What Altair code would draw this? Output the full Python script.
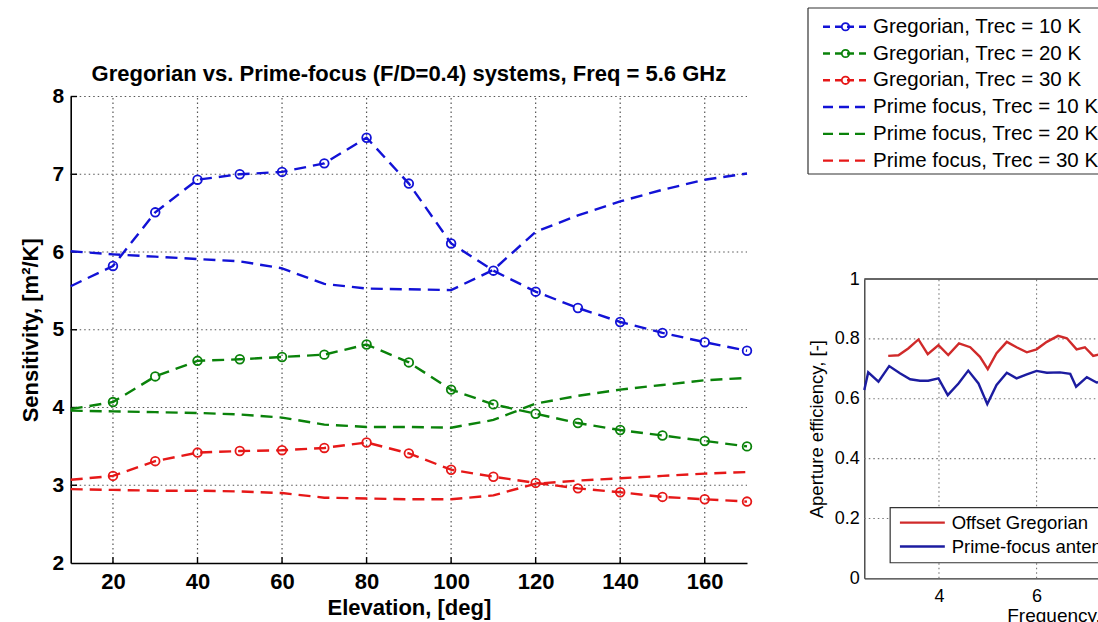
import altair as alt
import pandas as pd

# ---------------- data ----------------
elevation = [10, 20, 30, 40, 50, 60, 70, 80, 90, 100, 110, 120, 130, 140, 150, 160, 170]
greg_10k = [5.56, 5.82, 6.51, 6.93, 7.00, 7.03, 7.14, 7.47, 6.88, 6.11, 5.76, 5.49, 5.28, 5.10, 4.96, 4.84, 4.73]
greg_20k = [3.98, 4.07, 4.40, 4.60, 4.62, 4.65, 4.68, 4.81, 4.58, 4.23, 4.04, 3.92, 3.80, 3.71, 3.64, 3.57, 3.50]
greg_30k = [3.07, 3.12, 3.31, 3.42, 3.44, 3.45, 3.48, 3.55, 3.41, 3.20, 3.11, 3.03, 2.96, 2.91, 2.85, 2.82, 2.79]
prime_10k = [6.01, 5.97, 5.94, 5.91, 5.88, 5.79, 5.59, 5.53, 5.52, 5.51, 5.77, 6.26, 6.47, 6.65, 6.80, 6.93, 7.01]
prime_20k = [3.96, 3.95, 3.94, 3.93, 3.91, 3.87, 3.78, 3.75, 3.75, 3.74, 3.84, 4.05, 4.15, 4.23, 4.29, 4.35, 4.38]
prime_30k = [2.95, 2.94, 2.93, 2.93, 2.92, 2.90, 2.84, 2.83, 2.82, 2.82, 2.87, 3.02, 3.06, 3.09, 3.12, 3.15, 3.17]

temps = ["10 K", "20 K", "30 K"]
legend_labels = [
    "Gregorian, Trec = 10 K", "Gregorian, Trec = 20 K", "Gregorian, Trec = 30 K",
    "Prime focus, Trec = 10 K", "Prime focus, Trec = 20 K", "Prime focus, Trec = 30 K",
]
legend_kinds = ["Gregorian"] * 3 + ["Prime focus"] * 3
legend_temps = temps + temps

main_title = "Gregorian vs. Prime-focus (F/D=0.4) systems, Freq = 5.6 GHz"
x_ticks = [20, 40, 60, 80, 100, 120, 140, 160]
y_ticks = [2, 3, 4, 5, 6, 7, 8]

# inset: aperture efficiency vs frequency
greg_freq = [2.96, 3.17, 3.37, 3.58, 3.77, 3.99, 4.19, 4.41, 4.64, 4.84, 5.00, 5.18, 5.39, 5.59,
             5.80, 6.00, 6.21, 6.44, 6.62, 6.82, 6.99, 7.16, 7.35]
greg_eff = [0.743, 0.745, 0.768, 0.798, 0.749, 0.779, 0.746, 0.785, 0.772, 0.740, 0.699, 0.752, 0.790,
            0.772, 0.755, 0.765, 0.790, 0.810, 0.802, 0.765, 0.772, 0.743, 0.750]
prime_freq = [2.47, 2.55, 2.76, 2.98, 3.20, 3.41, 3.61, 3.78, 3.99, 4.18, 4.40, 4.60, 4.81, 4.99,
              5.18, 5.39, 5.59, 5.80, 6.00, 6.21, 6.48, 6.69, 6.81, 7.03, 7.23, 7.40]
prime_eff = [0.629, 0.688, 0.657, 0.709, 0.685, 0.665, 0.660, 0.660, 0.668, 0.612, 0.651, 0.694, 0.651,
             0.582, 0.646, 0.687, 0.668, 0.681, 0.693, 0.687, 0.688, 0.683, 0.640, 0.672, 0.654, 0.660]
inset_series = ["Offset Gregorian", "Prime-focus antenna"]
inset_x_ticks = [4, 6, 8, 10]
inset_y_ticks = [0, 0.2, 0.4, 0.6, 0.8, 1]

# ---------------- layout / style ----------------
W, H, PAD_B = 1098, 563, 59
MAIN_L, MAIN_R, MAIN_T = 70.7, 747, 96.5
INS_L, INS_R, INS_T, INS_B = 864.3, 1296.7, 279, 578.3
INS_DOM = [2.47, 11.33]
LEG_RANGE_X = [808, 1108]
LEG_RANGE_Y = [8, 174]
FONT = "Liberation Sans"
COLORS = ["#1212d6", "#0a820a", "#e61818"]
INSET_COLORS = ["#d02a2a", "#1c1ca0"]
GRID = "#555555"
TICK_LEN_Y = 0.075   # inward tick length in data units (main y)
TICK_LEN_X = 1.5     # inward tick length in data units (main x)

# ---------------- tidy tables ----------------
rows = []
for kind, series in [("Gregorian", [greg_10k, greg_20k, greg_30k]),
                     ("Prime focus", [prime_10k, prime_20k, prime_30k])]:
    for t, vals in zip(temps, series):
        for e, v in zip(elevation, vals):
            rows.append({"elevation": e, "value": v, "temp": t, "kind": kind, "series": f"{kind} {t}"})
main_df = pd.DataFrame(rows)

vgrid_df = pd.DataFrame({"x": x_ticks, "lo": y_ticks[0], "hi": y_ticks[-1]})
hgrid_df = pd.DataFrame({"y": y_ticks[1:], "lo": elevation[0], "hi": elevation[-1]})
xtick_df = pd.DataFrame({"x": x_ticks, "lo": y_ticks[0], "hi": y_ticks[0] + TICK_LEN_Y})
ytick_df = pd.DataFrame({"y": y_ticks[1:], "lo": elevation[0], "hi": elevation[0] + TICK_LEN_X})
title_df = pd.DataFrame({"x": [90], "y": [8.2], "text": [main_title]})

main_xs = alt.Scale(domain=[10, 170], range=[MAIN_L, MAIN_R], nice=False, zero=False)
main_ys = alt.Scale(domain=[2, 8], range=[H, MAIN_T], nice=False, zero=False)

main_xaxis = alt.Axis(values=x_ticks, title="Elevation, [deg]", orient="bottom", offset=0,
                      grid=False, ticks=False, domainColor="black", domainWidth=1.6,
                      labelFontSize=22, labelFontWeight="bold", labelColor="black", labelPadding=8,
                      labelFlush=False, titleFontSize=22, titleFontWeight="bold", titleColor="black",
                      titlePadding=5, labelFont=FONT, titleFont=FONT)
main_yaxis = alt.Axis(values=y_ticks, format="d", title="Sensitivity, [m²/K]", orient="left",
                      offset=-MAIN_L, grid=False, ticks=False, domainColor="black", domainWidth=1.6,
                      labelFontSize=21, labelFontWeight="bold", labelColor="black", labelPadding=7,
                      labelFlush=False, titleFontSize=22, titleFontWeight="bold", titleColor="black",
                      titlePadding=10, labelFont=FONT, titleFont=FONT)

color_main = alt.Color("temp:N", scale=alt.Scale(domain=temps, range=COLORS), legend=None)

vgrid = alt.Chart(vgrid_df).mark_rule(stroke=GRID, strokeDash=[1.5, 3], strokeWidth=1.2).encode(
    x=alt.X("x:Q", scale=main_xs, axis=main_xaxis),
    y=alt.Y("lo:Q", scale=main_ys, axis=main_yaxis), y2="hi:Q")
hgrid = alt.Chart(hgrid_df).mark_rule(stroke=GRID, strokeDash=[1.5, 3], strokeWidth=1.2).encode(
    y=alt.Y("y:Q", scale=main_ys, axis=main_yaxis),
    x=alt.X("lo:Q", scale=main_xs, axis=main_xaxis), x2="hi:Q")
xticks_m = alt.Chart(xtick_df).mark_rule(stroke="black", strokeWidth=1.4).encode(
    x=alt.X("x:Q", scale=main_xs, axis=main_xaxis),
    y=alt.Y("lo:Q", scale=main_ys, axis=main_yaxis), y2="hi:Q")
yticks_m = alt.Chart(ytick_df).mark_rule(stroke="black", strokeWidth=1.4).encode(
    y=alt.Y("y:Q", scale=main_ys, axis=main_yaxis),
    x=alt.X("lo:Q", scale=main_xs, axis=main_xaxis), x2="hi:Q")
lines = alt.Chart(main_df).mark_line(strokeDash=[12, 7], strokeWidth=2.4).encode(
    x=alt.X("elevation:Q", scale=main_xs, axis=main_xaxis),
    y=alt.Y("value:Q", scale=main_ys, axis=main_yaxis),
    color=color_main, detail="series:N")
points = alt.Chart(main_df).transform_filter(
    "datum.kind == 'Gregorian' && datum.elevation >= 20").mark_point(
    shape="circle", filled=False, size=75, strokeWidth=1.8, opacity=1).encode(
    x=alt.X("elevation:Q", scale=main_xs, axis=main_xaxis),
    y=alt.Y("value:Q", scale=main_ys, axis=main_yaxis),
    color=color_main)
title_mark = alt.Chart(title_df).mark_text(font=FONT, fontSize=22, fontWeight="bold", color="black",
                                           align="center", baseline="alphabetic").encode(
    x=alt.X("x:Q", scale=main_xs, axis=main_xaxis),
    y=alt.Y("y:Q", scale=main_ys, axis=main_yaxis), text="text:N")
main = alt.layer(vgrid, hgrid, xticks_m, yticks_m, lines, points, title_mark)

# ---------------- main legend (top right box, right side cut by the picture edge) ----------------
leg_df = pd.DataFrame({"label": legend_labels, "kind": legend_kinds, "temp": legend_temps,
                       "row": [i + 0.5 for i in range(len(legend_labels))]})
leg_df["x0"], leg_df["x1"], leg_df["xc"], leg_df["xt"] = 5, 20, 12.5, 21.7
# box outline: top, bottom (horizontal) and left (vertical) edges
box_h_df = pd.DataFrame({"y": [-0.2, 6.0], "lo": [0, 0], "hi": [200, 200]})
box_v_df = pd.DataFrame({"x": [0], "lo": [-0.2], "hi": [6.0]})
lxs = alt.Scale(domain=[0, 100], range=LEG_RANGE_X, nice=False, zero=False)
lys = alt.Scale(domain=[-0.2, 6.0], range=LEG_RANGE_Y, nice=False, zero=False)
color_leg = alt.Color("temp:N", scale=alt.Scale(domain=temps, range=COLORS), legend=None)

leg_box_h = alt.Chart(box_h_df).mark_rule(stroke="#333333", strokeWidth=1.2).encode(
    x=alt.X("lo:Q", scale=lxs, axis=None), x2="hi:Q",
    y=alt.Y("y:Q", scale=lys, axis=None))
leg_box_v = alt.Chart(box_v_df).mark_rule(stroke="#333333", strokeWidth=1.2).encode(
    x=alt.X("x:Q", scale=lxs, axis=None),
    y=alt.Y("lo:Q", scale=lys, axis=None), y2="hi:Q")
leg_greg = alt.Chart(leg_df).transform_filter("datum.kind == 'Gregorian'").mark_rule(
    strokeDash=[7, 5], strokeWidth=2.4).encode(
    x=alt.X("x0:Q", scale=lxs, axis=None), x2="x1:Q",
    y=alt.Y("row:Q", scale=lys, axis=None), color=color_leg)
leg_prime = alt.Chart(leg_df).transform_filter("datum.kind == 'Prime focus'").mark_rule(
    strokeDash=[10, 6], strokeWidth=2.4).encode(
    x=alt.X("x0:Q", scale=lxs, axis=None), x2="x1:Q",
    y=alt.Y("row:Q", scale=lys, axis=None), color=color_leg)
leg_pts = alt.Chart(leg_df).transform_filter("datum.kind == 'Gregorian'").mark_point(
    shape="circle", filled=False, size=55, strokeWidth=1.8, opacity=1).encode(
    x=alt.X("xc:Q", scale=lxs, axis=None),
    y=alt.Y("row:Q", scale=lys, axis=None), color=color_leg)
leg_txt = alt.Chart(leg_df).mark_text(font=FONT, fontSize=20.5, color="black", align="left",
                                      baseline="middle").encode(
    x=alt.X("xt:Q", scale=lxs, axis=None),
    y=alt.Y("row:Q", scale=lys, axis=None), text="label:N")
legend = alt.layer(leg_box_h, leg_box_v, leg_greg, leg_prime, leg_pts, leg_txt)

# ---------------- inset: aperture efficiency ----------------
inset_df = pd.concat([
    pd.DataFrame({"freq": greg_freq, "eff": greg_eff, "series": inset_series[0]}),
    pd.DataFrame({"freq": prime_freq, "eff": prime_eff, "series": inset_series[1]}),
])
ixs = alt.Scale(domain=INS_DOM, range=[INS_L, INS_R], nice=False, zero=False)
iys = alt.Scale(domain=[0, 1], range=[INS_B, INS_T], nice=False, zero=False)
ins_xaxis = alt.Axis(values=inset_x_ticks, format="~g", title="Frequency, [GHz]", orient="bottom",
                     offset=INS_B - H, grid=False, ticks=False, domainColor="#333333", domainWidth=1.3,
                     labelFontSize=18, labelColor="black", labelPadding=9, labelFlush=False,
                     titleFontSize=19, titleFontWeight="normal", titleColor="black", titlePadding=1,
                     labelFont=FONT, titleFont=FONT)
ins_yaxis = alt.Axis(values=inset_y_ticks, format="~g", title="Aperture efficiency, [-]", orient="left",
                     offset=-INS_L, grid=False, ticks=False, domainColor="#333333", domainWidth=1.3,
                     labelFontSize=18, labelColor="black", labelPadding=5, labelFlush=False,
                     titleFontSize=18.5, titleFontWeight="normal", titleColor="black", titlePadding=8,
                     labelFont=FONT, titleFont=FONT)
color_ins = alt.Color("series:N", scale=alt.Scale(domain=inset_series, range=INSET_COLORS), legend=None)

ivgrid_df = pd.DataFrame({"x": inset_x_ticks[:2], "lo": 0, "hi": 1})
ihgrid_df = pd.DataFrame({"y": inset_y_ticks[1:-1], "lo": INS_DOM[0], "hi": INS_DOM[1]})
itop_df = pd.DataFrame({"y": [1], "lo": [INS_DOM[0]], "hi": [INS_DOM[1]]})

ivgrid = alt.Chart(ivgrid_df).mark_rule(stroke="#777777", strokeDash=[1.5, 3], strokeWidth=1.1).encode(
    x=alt.X("x:Q", scale=ixs, axis=ins_xaxis),
    y=alt.Y("lo:Q", scale=iys, axis=ins_yaxis), y2="hi:Q")
ihgrid = alt.Chart(ihgrid_df).mark_rule(stroke="#777777", strokeDash=[1.5, 3], strokeWidth=1.1).encode(
    y=alt.Y("y:Q", scale=iys, axis=ins_yaxis),
    x=alt.X("lo:Q", scale=ixs, axis=ins_xaxis), x2="hi:Q")
itop = alt.Chart(itop_df).mark_rule(stroke="#333333", strokeWidth=1.3).encode(
    y=alt.Y("y:Q", scale=iys, axis=ins_yaxis),
    x=alt.X("lo:Q", scale=ixs, axis=ins_xaxis), x2="hi:Q")
ilines = alt.Chart(inset_df).mark_line(strokeWidth=2.4).encode(
    x=alt.X("freq:Q", scale=ixs, axis=ins_xaxis),
    y=alt.Y("eff:Q", scale=iys, axis=ins_yaxis),
    color=color_ins, detail="series:N")

ileg_box_df = pd.DataFrame({"x0": [3.0], "x1": [11.5], "y0": [0.052], "y1": [0.236]})
ileg_df = pd.DataFrame({"series": inset_series, "y": [0.186, 0.106],
                        "x0": 3.2, "x1": 4.12, "xt": 4.26})
ileg_box = alt.Chart(ileg_box_df).mark_rect(fill="white", stroke="#333333", strokeWidth=1.2).encode(
    x=alt.X("x0:Q", scale=ixs, axis=ins_xaxis), x2="x1:Q",
    y=alt.Y("y0:Q", scale=iys, axis=ins_yaxis), y2="y1:Q")
ileg_lines = alt.Chart(ileg_df).mark_rule(strokeWidth=2.4).encode(
    x=alt.X("x0:Q", scale=ixs, axis=ins_xaxis), x2="x1:Q",
    y=alt.Y("y:Q", scale=iys, axis=ins_yaxis), color=color_ins)
ileg_txt = alt.Chart(ileg_df).mark_text(font=FONT, fontSize=18.5, color="black", align="left",
                                        baseline="middle").encode(
    x=alt.X("xt:Q", scale=ixs, axis=ins_xaxis),
    y=alt.Y("y:Q", scale=iys, axis=ins_yaxis), text="series:N")
inset = alt.layer(ivgrid, ihgrid, itop, ilines, ileg_box, ileg_lines, ileg_txt)

chart = alt.layer(main, legend, inset).resolve_scale(
    x="independent", y="independent", color="independent"
).properties(
    width=W, height=H, autosize=alt.AutoSizeParams(type="none"),
    padding={"left": 0, "top": 0, "right": 0, "bottom": PAD_B},
).configure(font=FONT, background="white").configure_view(stroke=None, strokeWidth=0)

chart.save("out.html", embed_options={"renderer": "svg", "actions": False})
